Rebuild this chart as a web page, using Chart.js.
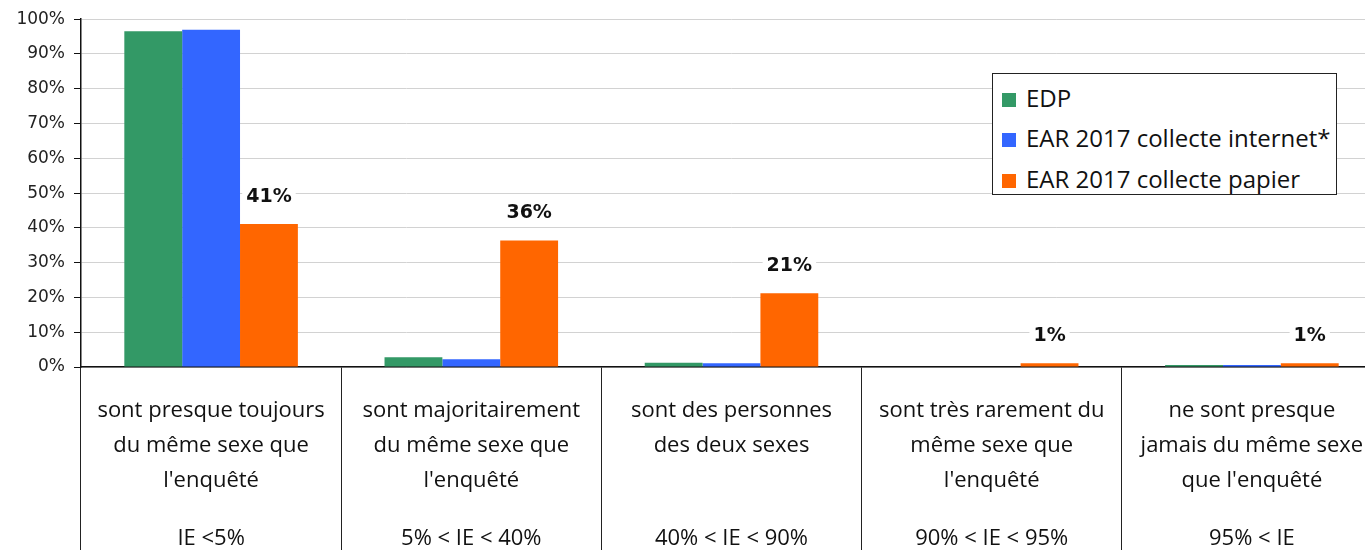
<!DOCTYPE html>
<html>
<head>
<meta charset="utf-8">
<script src="https://cdn.jsdelivr.net/npm/chart.js@4"></script>
<style>
  html, body { margin: 0; padding: 0; background: #fff; }
  #wrap { position: relative; width: 1365px; height: 550px; overflow: hidden; }
  #legend {
    position: absolute; left: 992px; top: 73px; width: 343px; height: 120px;
    border: 1px solid #222; background: #fff;
    font-family: "Open Sans", sans-serif; font-size: 24px; color: #111;
  }
  #legend .item { position: absolute; left: 9px; height: 26px; line-height: 26px; white-space: nowrap; }
  #legend .sw { display: inline-block; width: 14px; height: 14px; margin-right: 10px; vertical-align: 0px; }
</style>
</head>
<body>
<div id="wrap">
  <canvas id="chart" width="1383" height="556"></canvas>
  <div id="legend"></div>
</div>
<script>
const categories = [
  ["sont presque toujours", "du même sexe que", "l'enquêté"],
  ["sont majoritairement", "du même sexe que", "l'enquêté"],
  ["sont des personnes", "des deux sexes"],
  ["sont très rarement du", "même sexe que", "l'enquêté"],
  ["ne sont presque", "jamais du même sexe", "que l'enquêté"]
];
const ieRanges = ["IE <5%", "5% < IE < 40%", "40% < IE < 90%", "90% < IE < 95%", "95% < IE"];

const edp = [96.5, 2.8, 1.2, 0, 0.6];
const earInternet = [97, 2.2, 1.1, 0, 0.6];
const earPapier = [41.1, 36.4, 21.2, 1.1, 1.1];

const seriesNames = ["EDP", "EAR 2017 collecte internet*", "EAR 2017 collecte papier"];
const colors = ['#339966', '#3366ff', '#ff6600'];

// value labels above the orange bars, on a white patch
const barLabels = {
    id: 'barLabels',
    afterDatasetsDraw(chart) {
        const ctx = chart.ctx;
        const meta = chart.getDatasetMeta(2);
        ctx.save();
        ctx.font = 'bold 19px "DejaVu Sans", sans-serif';
        ctx.textAlign = 'center';
        ctx.textBaseline = 'middle';
        meta.data.forEach((bar, i) => {
            const txt = Math.round(earPapier[i]) + '%';
            const w = ctx.measureText(txt).width;
            const y = bar.y - 27;
            ctx.fillStyle = '#fff';
            ctx.fillRect(bar.x - w / 2 - 4, y - 11, w + 8, 22);
            ctx.fillStyle = '#111';
            ctx.fillText(txt, bar.x, y);
        });
        ctx.restore();
    }
};

const chart = new Chart(document.getElementById('chart'), {
    type: 'bar',
    data: {
        labels: categories,
        datasets: [
            { label: seriesNames[0], data: edp, backgroundColor: colors[0] },
            { label: seriesNames[1], data: earInternet, backgroundColor: colors[1] },
            { label: seriesNames[2], data: earPapier, backgroundColor: colors[2] }
        ]
    },
    options: {
        responsive: false,
        animation: false,
        devicePixelRatio: 1,
        layout: { padding: { top: 18, right: 1, left: 0, bottom: 0 } },
        datasets: { bar: { categoryPercentage: 0.667, barPercentage: 1.0, borderWidth: 0 } },
        plugins: {
            legend: { display: false },
            tooltip: { enabled: false }
        },
        scales: {
            y: {
                min: 0,
                max: 100,
                ticks: {
                    stepSize: 10,
                    padding: 9,
                    color: '#222',
                    font: { family: '"DejaVu Sans", sans-serif', size: 17 },
                    callback: v => v + '%'
                },
                grid: { color: '#d2d2d2', tickColor: '#111', tickLength: 7, lineWidth: 1 },
                border: { color: '#111', width: 1.5 },
                afterFit(scale) { scale.width = 81; }
            },
            x: {
                grid: { drawOnChartArea: false, tickLength: 184, color: '#222', lineWidth: 1 },
                border: { color: '#111', width: 1.5 },
                ticks: {
                    padding: -157.5,
                    color: '#111',
                    maxRotation: 0,
                    autoSkip: false,
                    font: { family: '"Open Sans", sans-serif', size: 22, lineHeight: '35px' }
                },
                afterFit(scale) { scale.height = 132; }
            },
            x2: {
                type: 'category',
                position: 'bottom',
                labels: ieRanges,
                offset: true,
                weight: 1,
                grid: { display: false, drawTicks: false },
                border: { display: false },
                ticks: {
                    padding: 22,
                    color: '#111',
                    maxRotation: 0,
                    autoSkip: false,
                    font: { family: '"Open Sans", sans-serif', size: 22, lineHeight: '35px' }
                },
                afterFit(scale) { scale.height = 57; }
            }
        }
    },
    plugins: [barLabels]
});

// legend box inside the plot, built from the datasets
const legendEl = document.getElementById('legend');
const rowTops = [11, 51, 92];
chart.data.datasets.forEach((ds, i) => {
    const item = document.createElement('div');
    item.className = 'item';
    item.style.top = rowTops[i] + 'px';
    const sw = document.createElement('span');
    sw.className = 'sw';
    sw.style.background = ds.backgroundColor;
    item.appendChild(sw);
    item.appendChild(document.createTextNode(ds.label));
    legendEl.appendChild(item);
});
</script>
</body>
</html>
